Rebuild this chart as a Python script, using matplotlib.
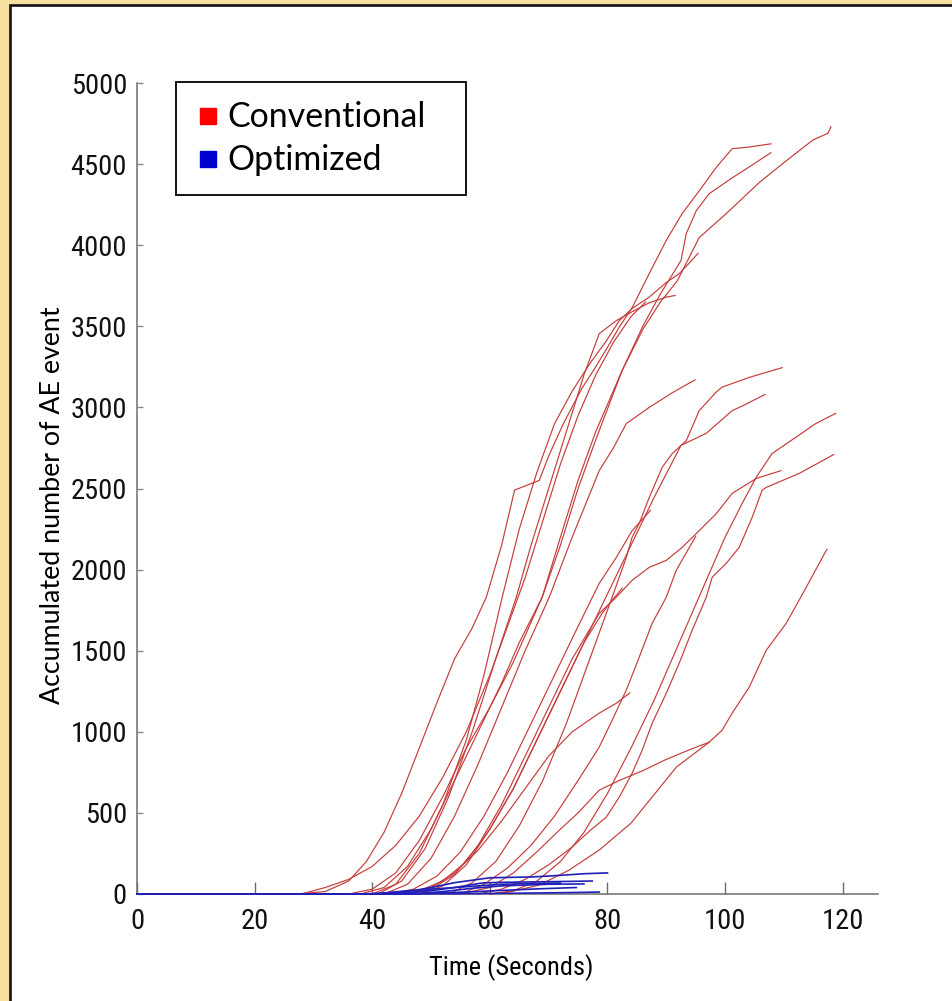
import matplotlib
matplotlib.use("Agg")
import matplotlib.pyplot as plt
from matplotlib import font_manager
from matplotlib.patches import Rectangle
from matplotlib.lines import Line2D

# ---------------- data ----------------
x_ticks = [0, 20, 40, 60, 80, 100, 120]
y_ticks = [0, 500, 1000, 1500, 2000, 2500, 3000, 3500, 4000, 4500, 5000]
x_label = "Time (Seconds)"
y_label = "Accumulated number of AE event"
legend_labels = ["Conventional", "Optimized"]

conv_A_t = [27, 32, 36, 39, 42, 45, 48, 51, 54, 57, 59.4, 62, 64.2, 68.4, 70, 72.5, 75.7, 78, 80, 82, 84.2, 87.1, 90, 92.7, 95.6, 98.5, 101.2, 104, 107.8]
conv_A_n = [0, 15, 80, 200, 380, 620, 900, 1180, 1450, 1640, 1830, 2150, 2490, 2550, 2700, 2900, 3120, 3250, 3370, 3495, 3615, 3825, 4030, 4195, 4335, 4480, 4595, 4605, 4625]
conv_B_t = [36, 40, 44, 48, 52, 56, 60, 64, 68.9, 72, 75, 78, 82.5, 86, 89, 91.9, 95.6, 100.2, 105.8, 109, 112.6, 115, 117.5, 118]
conv_B_n = [0, 30, 130, 330, 600, 900, 1150, 1430, 1830, 2200, 2550, 2850, 3228, 3480, 3650, 3782, 4047, 4195, 4386, 4480, 4583, 4650, 4690, 4730]
conv_C_t = [38, 42, 46, 50, 54, 58, 62, 65, 68.9, 72, 75, 78, 82.5, 86, 89, 92.5, 93.4, 95.1, 97.3, 101.2, 104, 106.3, 107.8]
conv_C_n = [0, 40, 170, 400, 700, 1000, 1300, 1550, 1830, 2150, 2500, 2800, 3228, 3500, 3700, 3905, 4072, 4213, 4318, 4415, 4480, 4535, 4570]
conv_D_t = [40, 44, 48, 52, 56, 59, 62.1, 65, 68, 71, 74, 77, 79.8, 82, 84.2, 87.1, 90, 92.2, 93.9, 95.4]
conv_D_n = [0, 60, 250, 550, 950, 1350, 1830, 2250, 2600, 2900, 3100, 3270, 3410, 3535, 3610, 3680, 3770, 3825, 3890, 3950]
conv_E_t = [41, 45, 49, 53, 57, 61, 64.5, 67, 70, 73, 76, 78.6, 81.5, 84.2, 87.1, 90, 91.5]
conv_E_n = [0, 80, 280, 600, 1000, 1450, 1830, 2150, 2500, 2850, 3200, 3455, 3535, 3590, 3645, 3680, 3690]
conv_F_t = [42, 46, 50, 54, 58, 62, 66, 70.1, 74, 78.6, 81, 83.2, 87.1, 91, 94.9]
conv_F_n = [0, 60, 220, 480, 800, 1150, 1500, 1830, 2200, 2610, 2750, 2900, 3000, 3090, 3170]
conv_G_t = [53, 57, 61, 65, 69, 73, 77, 80.8, 83.2, 84.2, 85.4, 87.1, 89.3, 91, 93.4, 95.6, 98.5, 99.5, 104.1, 109.7]
conv_G_n = [0, 70, 200, 420, 700, 1050, 1450, 1830, 2075, 2200, 2285, 2445, 2630, 2715, 2795, 2980, 3095, 3125, 3185, 3245]
conv_H_t = [48, 52, 56, 60, 64, 68, 72, 76, 80, 84, 88, 92.5, 96.8, 101.2, 103, 106.8]
conv_H_n = [0, 50, 180, 400, 650, 950, 1250, 1550, 1850, 2150, 2450, 2766, 2840, 2980, 3010, 3080]
conv_I_t = [60, 64, 68, 72, 76, 80, 84, 88, 91, 94, 97, 100, 102.9, 105.3, 108, 112, 115.4, 118.8]
conv_I_n = [0, 20, 80, 200, 380, 620, 900, 1200, 1450, 1700, 1950, 2200, 2408, 2570, 2716, 2815, 2900, 2963]
conv_J_t = [58, 62, 66, 70, 74, 77, 79.8, 82, 84.2, 85.9, 87.6, 90, 92.2, 94.4, 96.8, 97.8, 100.2, 102.4, 104.6, 106.3, 107, 112.6, 118.5]
conv_J_n = [0, 30, 90, 180, 290, 390, 474, 597, 745, 887, 1053, 1238, 1423, 1626, 1830, 1953, 2039, 2137, 2322, 2489, 2507, 2593, 2710]
conv_K_t = [46, 50, 54, 58, 62, 66, 70, 74, 78.6, 81.5, 84.2, 87.1, 90, 92.7, 95.6, 98.5, 101.2, 105.3, 109.5]
conv_K_n = [0, 30, 120, 300, 550, 850, 1150, 1450, 1730, 1830, 1934, 2014, 2057, 2137, 2240, 2345, 2470, 2562, 2610]
conv_L_t = [43, 47, 51, 55, 59, 63, 67, 71, 75, 78.6, 81.5, 84.2, 87.3]
conv_L_n = [0, 30, 110, 260, 480, 750, 1050, 1350, 1650, 1915, 2075, 2240, 2365]
conv_M_t = [55, 59, 63, 67, 71, 75, 78.6, 80.8, 83.2, 85.4, 87.6, 90, 91.7, 95]
conv_M_n = [0, 60, 160, 300, 480, 700, 906, 1072, 1257, 1460, 1669, 1830, 1996, 2205]
conv_N_t = [60, 63.3, 68.4, 73.5, 78.6, 84, 87.6, 91.7, 97.3, 99.5, 101.2, 104.1, 107, 110.4, 113.8, 117.3]
conv_N_n = [0, 12, 55, 148, 271, 437, 598, 782, 936, 1010, 1115, 1275, 1503, 1669, 1891, 2125]
conv_O_t = [45, 48, 52, 56, 60, 64, 68, 72, 76, 79.1, 80.8, 82.5]
conv_O_n = [0, 20, 80, 200, 400, 650, 950, 1250, 1550, 1731, 1811, 1885]
conv_P_t = [46, 50, 54, 58, 62, 66, 70, 74, 78.6, 81.5, 83.8]
conv_P_n = [0, 40, 130, 270, 450, 650, 850, 1000, 1115, 1176, 1240]
conv_Q_t = [55, 60, 64, 68, 72, 75, 78.6, 82, 86, 90, 94, 97.3]
conv_Q_n = [0, 40, 130, 260, 400, 500, 640, 700, 760, 830, 890, 936]
conv_S_t = [28, 32, 36, 40, 44, 48, 52, 56, 60, 63, 66, 69, 72, 75, 78, 81, 84, 86.5]
conv_S_n = [0, 40, 90, 170, 300, 480, 720, 1000, 1350, 1650, 1950, 2300, 2650, 2950, 3200, 3400, 3560, 3650]

opt_1_t = [0, 38, 42, 46, 50, 54, 58, 60, 64, 67.2, 72, 76, 80]
opt_1_n = [0, 0, 5, 15, 40, 70, 90, 100, 103, 105, 115, 125, 130]
opt_2_t = [0, 42, 46, 50, 54, 58.7, 62, 66, 70, 74, 77.4]
opt_2_n = [0, 0, 8, 20, 40, 68, 72, 74, 76, 78, 80]
opt_3_t = [0, 44, 50, 56, 62, 68.4, 74.7]
opt_3_n = [0, 0, 5, 12, 22, 32, 40]
opt_4_t = [0, 45, 55, 65, 72, 78.6]
opt_4_n = [0, 0, 2, 5, 8, 12]
opt_5_t = [0, 40, 46, 50, 56, 62, 68, 72]
opt_5_n = [0, 0, 20, 30, 45, 60, 65, 68]
opt_6_t = [0, 47, 52, 57, 62, 66, 70, 76]
opt_6_n = [0, 0, 15, 35, 50, 55, 60, 62]

conventional = [(conv_A_t, conv_A_n), (conv_B_t, conv_B_n), (conv_C_t, conv_C_n),
                (conv_D_t, conv_D_n), (conv_E_t, conv_E_n), (conv_F_t, conv_F_n),
                (conv_G_t, conv_G_n), (conv_H_t, conv_H_n), (conv_I_t, conv_I_n),
                (conv_J_t, conv_J_n), (conv_K_t, conv_K_n), (conv_L_t, conv_L_n),
                (conv_M_t, conv_M_n), (conv_N_t, conv_N_n), (conv_O_t, conv_O_n),
                (conv_P_t, conv_P_n), (conv_Q_t, conv_Q_n), (conv_S_t, conv_S_n)]
optimized = [(opt_1_t, opt_1_n), (opt_2_t, opt_2_n), (opt_3_t, opt_3_n),
             (opt_4_t, opt_4_n), (opt_5_t, opt_5_n), (opt_6_t, opt_6_n)]

# ---------------- fonts ----------------
names = {f.name for f in font_manager.fontManager.ttflist}
narrow = "DejaVu Sans"
for cand in ["Liberation Sans Narrow", "Roboto Condensed", "Open Sans Condensed",
             "DejaVu Sans Condensed", "Roboto", "Liberation Sans"]:
    if cand in names:
        narrow = cand
        break
human = "Lato" if "Lato" in names else "DejaVu Sans"

# ---------------- figure ----------------
W, H = 953, 1001
fig = plt.figure(figsize=(W / 100, H / 100), dpi=100)
fig.patch.set_facecolor("#F7DF9E")
fig.patches.append(Rectangle((10 / W, -0.02), 1.05, 1 - 5 / H + 0.02,
                             transform=fig.transFigure, facecolor="white",
                             edgecolor="#111111", linewidth=1.9, zorder=-5))

ax_l, ax_r, ax_t, ax_b = 137, 878, 83, 894
ax = fig.add_axes([ax_l / W, 1 - ax_b / H, (ax_r - ax_l) / W, (ax_b - ax_t) / H])
ax.set_facecolor("none")
ax.set_zorder(2)

for t, n in conventional:
    ax.plot(t, n, color="#C63B3B", lw=0.85, clip_on=False, zorder=3)
for t, n in optimized:
    ax.plot(t, n, color="#2020B8", lw=1.2, clip_on=False, zorder=4)

ax.set_xlim(0, 126)
ax.set_ylim(0, 5000)
ax.set_xticks(x_ticks)
ax.set_yticks(y_ticks)
for s in ("top", "right"):
    ax.spines[s].set_visible(False)
for s in ("left", "bottom"):
    ax.spines[s].set_color("#6E6E6E")
    ax.spines[s].set_linewidth(1.1)
ax.tick_params(axis="y", direction="in", length=4.5, width=1.0, color="#8A8A8A",
               pad=7.2, labelsize=20.5, labelcolor="#111111")
ax.tick_params(axis="x", direction="in", length=8.5, width=1.0, color="#6E6E6E",
               pad=10, labelsize=20.5, labelcolor="#111111")
for lab in ax.get_xticklabels() + ax.get_yticklabels():
    lab.set_family(narrow)

xl = ax.set_xlabel(x_label, family=narrow, fontsize=19, va="center")
ax.xaxis.set_label_coords((511 - ax_l) / (ax_r - ax_l), -(968 - ax_b) / (ax_b - ax_t))
yl = ax.set_ylabel(y_label, family=human, fontsize=18, va="center")
ax.yaxis.set_label_coords(-(ax_l - 53) / (ax_r - ax_l), (ax_b - 505) / (ax_b - ax_t))

handles = [Line2D([], [], ls="", marker="s", markersize=12, color="#FF0000"),
           Line2D([], [], ls="", marker="s", markersize=12, color="#0000CC")]
leg = ax.legend(handles, legend_labels, loc="upper left",
                bbox_to_anchor=(176 / W, 1 - 192 / H, (466 - 176) / W, (192 - 82) / H),
                bbox_transform=fig.transFigure, mode="expand",
                prop={"family": human, "size": 22}, frameon=True, fancybox=False,
                edgecolor="black", borderpad=0.62, handlelength=0.85,
                handletextpad=0.2, labelspacing=0.36, borderaxespad=0)
leg.get_frame().set_linewidth(1.3)
leg.get_frame().set_facecolor("white")
leg.get_frame().set_alpha(1)
leg.set_zorder(10)

# fit text sizes to the measured lengths in the picture
fig.canvas.draw()
r = fig.canvas.get_renderer()
yw = yl.get_window_extent(r).height
yl.set_fontsize(yl.get_fontsize() * 396 / yw)
t0 = leg.get_texts()[0]
t0.set_fontsize(t0.get_fontsize() * 198 / t0.get_window_extent(r).width)
leg.get_texts()[1].set_fontsize(t0.get_fontsize())

fig.savefig("out.png", dpi=100, facecolor=fig.get_facecolor())
